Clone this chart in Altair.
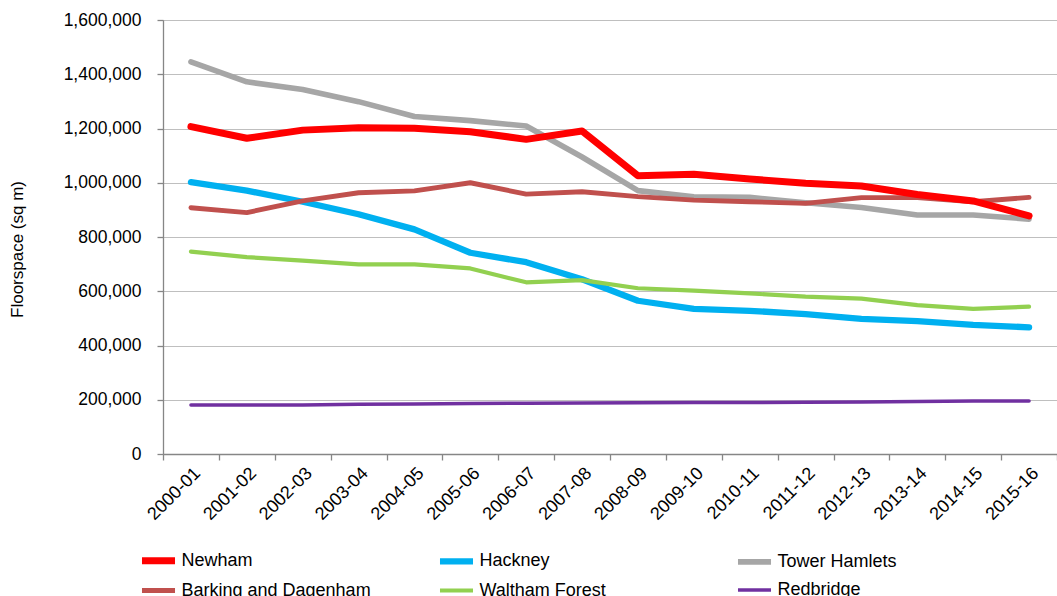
import altair as alt
import pandas as pd

# Financial years on the x axis
years = ["2000-01", "2001-02", "2002-03", "2003-04", "2004-05", "2005-06",
         "2006-07", "2007-08", "2008-09", "2009-10", "2010-11", "2011-12",
         "2012-13", "2013-14", "2014-15", "2015-16"]

# Floorspace (sq m) by borough
newham = [1207000, 1164000, 1194000, 1203000, 1201000, 1188000, 1160000, 1191000,
          1026000, 1031000, 1014000, 998000, 988000, 957000, 933000, 878000]
hackney = [1002000, 971000, 930000, 884000, 828000, 742000, 707000, 644000,
           565000, 535000, 528000, 516000, 498000, 490000, 476000, 467000]
tower_hamlets = [1446000, 1372000, 1344000, 1299000, 1244000, 1229000, 1209000, 1095000,
                 971000, 948000, 946000, 926000, 909000, 881000, 881000, 866000]
barking = [908000, 890000, 933000, 963000, 970000, 1000000, 958000, 967000,
           949000, 936000, 930000, 924000, 945000, 945000, 930000, 946000]
waltham_forest = [746000, 726000, 713000, 699000, 699000, 684000, 633000, 641000,
                  611000, 602000, 592000, 580000, 573000, 549000, 535000, 543000]
redbridge = [181000, 181000, 181000, 183000, 184000, 186000, 187000, 188000,
             189000, 190000, 190000, 191000, 192000, 194000, 195000, 195000]

series_names = ["Newham", "Hackney", "Tower Hamlets",
                "Barking and Dagenham", "Waltham Forest", "Redbridge"]
series_colors = ["#FF0000", "#00B0F0", "#A6A6A6", "#C0504D", "#92D050", "#7030A0"]
series_widths = [7, 3.5, 3.5, 3.5, 3.5, 3.5]

# Newham goes last so its heavy line sits on top
values_by_name = {
    "Hackney": hackney,
    "Tower Hamlets": tower_hamlets,
    "Barking and Dagenham": barking,
    "Waltham Forest": waltham_forest,
    "Redbridge": redbridge,
    "Newham": newham,
}
rows = []
for name, vals in values_by_name.items():
    for yr, v in zip(years, vals):
        rows.append({"year": yr, "series": name, "value": v})
df = pd.DataFrame(rows)

FONT = "Liberation Sans"

# A wide, flat line swatch: the path is longer than the square slot the legend
# reserves for it, which keeps the two legend rows tight together.
legend_props = dict(title=None, orient="none", legendX=-21, legendY=524, columns=3,
                    direction="horizontal", symbolType="M-1.27,0H1.27", symbolSize=676,
                    gridAlign="all", columnPadding=56, rowPadding=0, labelOffset=6.5,
                    labelLimit=300, labelFontSize=18, labelFont=FONT,
                    labelColor="#000000")

chart = alt.Chart(df).mark_line(strokeCap="round", strokeJoin="round").encode(
    x=alt.X("year:O", sort=years, bandPosition=0.5,
            scale=alt.Scale(type="band", paddingInner=0, paddingOuter=0),
            axis=alt.Axis(title=None, labelAngle=-45, tickBand="extent",
                          grid=False, labelPadding=4, labelFontSize=18)),
    y=alt.Y("value:Q",
            scale=alt.Scale(domain=[0, 1600000], nice=False),
            axis=alt.Axis(title="Floorspace (sq m)", format=",.0f",
                          values=list(range(0, 1600001, 200000)),
                          labelPadding=16, titleX=-146, titleY=229,
                          titleAngle=270, titleAlign="center",
                          titleBaseline="middle", titleFontSize=17,
                          titleFontWeight="normal", titleColor="#000000",
                          grid=True, gridColor="#7F7F7F", gridDash=[1, 1],
                          gridWidth=1)),
    color=alt.Color("series:N", sort=series_names,
                    scale=alt.Scale(domain=series_names, range=series_colors),
                    legend=alt.Legend(**legend_props)),
    strokeWidth=alt.StrokeWidth("series:N", sort=series_names,
                                scale=alt.Scale(domain=series_names, range=series_widths),
                                legend=alt.Legend(**legend_props)),
).properties(
    width=894,
    height=434,
    autosize=alt.AutoSizeParams(type="none"),
    padding={"left": 163, "top": 20, "right": 0, "bottom": 142},
).configure_view(
    stroke=None
).configure_axis(
    labelFont=FONT,
    titleFont=FONT,
    labelFontSize=17.5,
    labelColor="#000000",
    domainColor="#868686",
    tickColor="#868686",
    tickSize=6,
    domainWidth=1.3,
    tickWidth=1.3,
)

chart.save("out.html", embed_options={"renderer": "svg", "actions": False})
